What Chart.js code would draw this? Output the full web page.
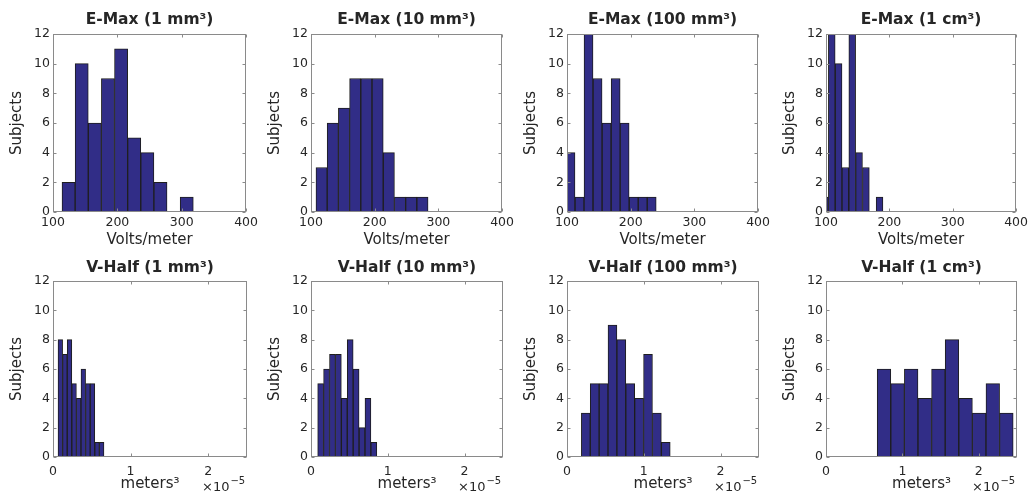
<!DOCTYPE html>
<html><head><meta charset="utf-8">
<script src="https://cdn.jsdelivr.net/npm/chart.js@4.4.1/dist/chart.umd.min.js"></script>
<style>
html,body{margin:0;padding:0;background:#fff;width:1033px;height:499px;overflow:hidden;}
canvas{position:absolute;}
</style></head><body>
<script>
// ---------------- data ----------------
const yTickValues = [0, 2, 4, 6, 8, 10, 12];
const eMaxTickValues = [100, 200, 300, 400];          // Volts/meter
const vHalfTickValues = [0, 1, 2];                    // ×10^-5 meters³

const panelTitles = ['E-Max (1 mm³)', 'E-Max (10 mm³)', 'E-Max (100 mm³)', 'E-Max (1 cm³)',
                     'V-Half (1 mm³)', 'V-Half (10 mm³)', 'V-Half (100 mm³)', 'V-Half (1 cm³)'];

// E-Max histograms: bin centres (V/m) and subject counts
const eMax1mmBins    = [124.2, 144.6, 165.0, 185.4, 205.8, 226.2, 246.6, 267.0, 287.4, 307.8];
const eMax1mmCounts  = [2, 10, 6, 9, 11, 5, 4, 2, 0, 1];
const eMax10mmBins   = [116.6, 134.2, 151.8, 169.4, 187.0, 204.6, 222.2, 239.8, 257.4, 275.0];
const eMax10mmCounts = [3, 6, 7, 9, 9, 9, 4, 1, 1, 1];
const eMax100mmBins  = [105.5, 119.7, 133.8, 148.0, 162.2, 176.4, 190.5, 204.7, 218.9, 233.0];
const eMax100mmCounts= [4, 1, 12, 9, 6, 9, 6, 1, 1, 1];
const eMax1cmBins    = [98.3, 109.1, 119.9, 130.6, 141.4, 152.2, 163.0, 173.8, 184.5];
const eMax1cmCounts  = [1, 12, 10, 3, 12, 4, 3, 0, 1];

// V-Half histograms: bin centres (×10^-5 m³) and subject counts
const vHalf1mmBins    = [0.0944, 0.1536, 0.2128, 0.2720, 0.3312, 0.3904, 0.4496, 0.5088, 0.5680, 0.6272];
const vHalf1mmCounts  = [8, 7, 8, 5, 4, 6, 5, 5, 1, 1];
const vHalf10mmBins   = [0.1255, 0.2025, 0.2795, 0.3565, 0.4335, 0.5105, 0.5875, 0.6645, 0.7415, 0.8185];
const vHalf10mmCounts = [5, 6, 7, 7, 4, 8, 6, 2, 4, 1];
const vHalf100mmBins  = [0.2449, 0.3606, 0.4763, 0.5920, 0.7077, 0.8234, 0.9391, 1.0548, 1.1705, 1.2862];
const vHalf100mmCounts= [3, 5, 5, 9, 8, 5, 4, 7, 3, 1];
const vHalf1cmBins    = [0.759, 0.937, 1.115, 1.293, 1.471, 1.649, 1.827, 2.005, 2.183, 2.361];
const vHalf1cmCounts  = [6, 5, 6, 4, 6, 8, 4, 3, 5, 3];

// ---------------- style / layout ----------------
const FONT = "'DejaVu Sans', sans-serif";
const TEXT = '#262626';
const AXIS = '#8a8a8a';
const BAR = '#312d87';
const EDGE = '#1e1e1e';

const colLeft = [53, 311, 567, 826];
const colWidth = [194, 192, 192, 191];
const Y_AXIS_W = 53, PAD_R = 14;

const frame = {
  id: 'frame',
  afterDatasetsDraw(chart) {
    const {ctx, chartArea: a, scales: {x, y}} = chart;
    ctx.save();
    ctx.strokeStyle = AXIS; ctx.lineWidth = 1;
    ctx.beginPath();
    const L = Math.round(a.left) + 0.5, R = Math.round(a.right) - 0.5;
    const T = Math.round(a.top) + 0.5, B = Math.round(a.bottom) - 0.5;
    x.ticks.forEach(t => {
      const p = Math.round(x.getPixelForValue(t.value)) + 0.5;
      ctx.moveTo(p, B); ctx.lineTo(p, B - 3);
      ctx.moveTo(p, T); ctx.lineTo(p, T + 3);
    });
    y.ticks.forEach(t => {
      const p = Math.round(y.getPixelForValue(t.value)) + 0.5;
      ctx.moveTo(L, p); ctx.lineTo(L + 3, p);
      ctx.moveTo(R, p); ctx.lineTo(R - 3, p);
    });
    ctx.stroke();
    ctx.strokeRect(L, T, R - L, B - T);
    const exp = chart.options.plugins.frame && chart.options.plugins.frame.exponent;
    if (exp) {
      ctx.fillStyle = TEXT;
      ctx.textBaseline = 'alphabetic';
      ctx.textAlign = 'left';
      ctx.font = "13px " + FONT;
      const base = chart.height - 8;
      const xs = a.right - 45;
      ctx.fillText('×10', xs, base);
      const w = ctx.measureText('×10').width;
      ctx.font = "10px " + FONT;
      ctx.fillText(exp, xs + w + 1, base - 7);
    }
    ctx.restore();
  }
};

function makePanel(idx, bins, counts) {
  const row = idx < 4 ? 0 : 1;
  const col = idx % 4;
  const top = row === 0 ? 0 : 250;
  const h = row === 0 ? 250 : 249;
  const w = Y_AXIS_W + colWidth[col] + PAD_R;
  const cv = document.createElement('canvas');
  cv.width = w; cv.height = h;
  cv.style.left = (colLeft[col] - Y_AXIS_W) + 'px';
  cv.style.top = top + 'px';
  cv.style.width = w + 'px'; cv.style.height = h + 'px';
  document.body.appendChild(cv);

  const isE = row === 0;
  const xTicks = isE ? eMaxTickValues : vHalfTickValues;
  new Chart(cv, {
    type: 'bar',
    data: {
      datasets: [{
        data: bins.map((b, i) => ({x: b, y: counts[i]})),
        backgroundColor: BAR, borderColor: EDGE, borderWidth: 1,
        categoryPercentage: 1, barPercentage: 1, clip: 0
      }]
    },
    options: {
      responsive: false, animation: false, devicePixelRatio: 1,
      layout: {padding: {left: 0, right: PAD_R, top: 0, bottom: 0}},
      plugins: {
        legend: {display: false}, tooltip: {enabled: false},
        title: {display: true, text: panelTitles[idx], color: TEXT, fullSize: false,
          font: {family: FONT, size: 15.5, weight: 'bold'},
          padding: isE ? {top: 10.5, bottom: 4.9} : {top: 8.7, bottom: 3.7}},
        frame: {exponent: isE ? null : '−5'}
      },
      scales: {
        x: {
          type: 'linear', offset: false,
          min: isE ? 100 : 0, max: isE ? 400 : 2.5,
          afterBuildTicks: s => { s.ticks = xTicks.map(v => ({value: v})); },
          ticks: {color: TEXT, font: {family: FONT, size: 12.5}, padding: isE ? 3 : 7,
                  maxRotation: 0, autoSkip: false},
          grid: {display: false, drawTicks: false, offset: false},
          border: {display: false},
          title: {display: true, text: isE ? 'Volts/meter' : 'meters³', color: TEXT,
                  font: {family: FONT, size: 15}, padding: {top: 0, bottom: isE ? 1 : 6}},
          afterFit: s => { s.height = isE ? 38 : 42; }
        },
        y: {
          min: 0, max: 12,
          afterBuildTicks: s => { s.ticks = yTickValues.map(v => ({value: v})); },
          ticks: {color: TEXT, font: {family: FONT, size: 12.5}, padding: 3},
          grid: {display: false, drawTicks: false},
          border: {display: false},
          title: {display: true, text: 'Subjects', color: TEXT,
                  font: {family: FONT, size: 15}, padding: {top: 8.5, bottom: 0}},
          afterFit: s => { s.width = Y_AXIS_W; }
        }
      }
    },
    plugins: [frame]
  });
}

makePanel(0, eMax1mmBins, eMax1mmCounts);
makePanel(1, eMax10mmBins, eMax10mmCounts);
makePanel(2, eMax100mmBins, eMax100mmCounts);
makePanel(3, eMax1cmBins, eMax1cmCounts);
makePanel(4, vHalf1mmBins, vHalf1mmCounts);
makePanel(5, vHalf10mmBins, vHalf10mmCounts);
makePanel(6, vHalf100mmBins, vHalf100mmCounts);
makePanel(7, vHalf1cmBins, vHalf1cmCounts);
</script>
</body></html>
